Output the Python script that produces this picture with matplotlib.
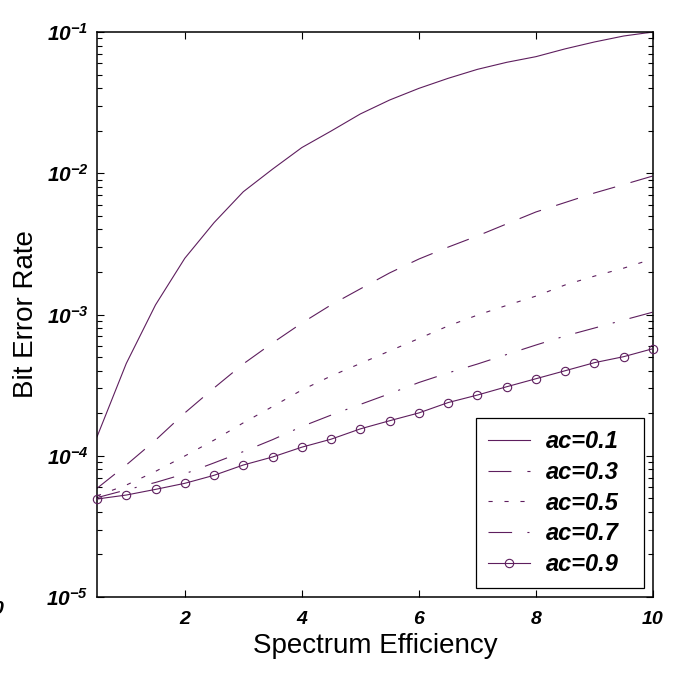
import numpy as np
import matplotlib
matplotlib.use("Agg")
import matplotlib.pyplot as plt
from matplotlib.ticker import FixedLocator, FuncFormatter, LogLocator, NullFormatter

plt.rcParams['font.family'] = ['Liberation Sans', 'DejaVu Sans']
plt.rcParams['mathtext.fontset'] = 'custom'
plt.rcParams['mathtext.rm'] = 'Liberation Sans:bold:italic'
plt.rcParams['mathtext.it'] = 'Liberation Sans:bold:italic'
plt.rcParams['mathtext.bf'] = 'Liberation Sans:bold:italic'
plt.rcParams['mathtext.default'] = 'rm'
plt.rcParams['lines.scale_dashes'] = False

# ---- data ----
x = [0.5, 1.0, 1.5, 2.0, 2.5, 3.0, 3.5, 4.0, 4.5, 5.0,
     5.5, 6.0, 6.5, 7.0, 7.5, 8.0, 8.5, 9.0, 9.5, 10.0]
ber_ac01 = [1.36e-4, 4.5e-4, 1.17e-3, 2.5e-3, 4.47e-3, 7.4e-3, 1.07e-2, 1.52e-2, 1.99e-2, 2.63e-2,
            3.30e-2, 3.99e-2, 4.70e-2, 5.44e-2, 6.10e-2, 6.69e-2, 7.60e-2, 8.50e-2, 9.37e-2, 1.0e-1]
ber_ac03 = [5.88e-5, 8.6e-5, 1.29e-4, 2.01e-4, 3.02e-4, 4.47e-4, 6.29e-4, 8.7e-4, 1.17e-3, 1.52e-3,
            1.97e-3, 2.47e-3, 3.0e-3, 3.6e-3, 4.38e-3, 5.32e-3, 6.21e-3, 7.25e-3, 8.32e-3, 9.57e-3]
ber_ac05 = [5.2e-5, 6.2e-5, 7.75e-5, 9.96e-5, 1.29e-4, 1.71e-4, 2.23e-4, 2.92e-4, 3.67e-4, 4.5e-4,
            5.52e-4, 6.76e-4, 8.3e-4, 9.9e-4, 1.16e-3, 1.35e-3, 1.62e-3, 1.87e-3, 2.13e-3, 2.48e-3]
ber_ac07 = [5.05e-5, 5.73e-5, 6.47e-5, 7.45e-5, 8.9e-5, 1.07e-4, 1.30e-4, 1.61e-4, 1.94e-4, 2.31e-4,
            2.75e-4, 3.30e-4, 3.86e-4, 4.46e-4, 5.21e-4, 6.08e-4, 7.05e-4, 8.02e-4, 9.14e-4, 1.04e-3]
ber_ac09 = [4.94e-5, 5.27e-5, 5.78e-5, 6.38e-5, 7.27e-5, 8.6e-5, 9.8e-5, 1.15e-4, 1.31e-4, 1.55e-4,
            1.77e-4, 2.01e-4, 2.38e-4, 2.69e-4, 3.08e-4, 3.51e-4, 4.0e-4, 4.56e-4, 5.03e-4, 5.73e-4]
labels = ['ac=0.1', 'ac=0.3', 'ac=0.5', 'ac=0.7', 'ac=0.9']
xticks = [2, 4, 6, 8, 10]
yticks_exp = [-5, -4, -3, -2, -1]

color = '#5e1e5e'
lw = 0.8

fig = plt.figure(figsize=(6.83, 6.76), dpi=100)
ax = fig.add_axes([97/683, 1-597/676, 556/683, 565/676])

ax.plot(x, ber_ac01, color=color, lw=lw, linestyle='-', label=labels[0])
ax.plot(x, ber_ac03, color=color, lw=lw, linestyle=(0, (16.5, 11.5)), label=labels[1])
ax.plot(x, ber_ac05, color=color, lw=lw, linestyle=(0, (3.0, 8.5)), label=labels[2])
ax.plot(x, ber_ac07, color=color, lw=lw, linestyle=(0, (17, 11, 1.5, 11)), label=labels[3])
ax.plot(x, ber_ac09, color=color, lw=lw, linestyle='-', marker='o', markersize=6,
        markerfacecolor='none', markeredgecolor=color, markeredgewidth=0.8,
        clip_on=False, zorder=5, label=labels[4])

ax.set_yscale('log')
ax.set_xlim(0.5, 10)
ax.set_ylim(1e-5, 1e-1)

ax.xaxis.set_major_locator(FixedLocator(xticks))
ax.set_xticklabels([str(t) for t in xticks])
ax.yaxis.set_major_locator(FixedLocator([10.0**e for e in yticks_exp]))
ax.yaxis.set_major_formatter(FuncFormatter(lambda v, p: r'$10^{%d}$' % int(round(np.log10(v)))))
ax.yaxis.set_minor_locator(LogLocator(base=10, subs=np.arange(2, 10)))
ax.yaxis.set_minor_formatter(NullFormatter())
ax.xaxis.set_minor_locator(FixedLocator([]))

ax.tick_params(which='both', direction='in', top=True, right=True, width=0.8, color='black')
ax.tick_params(which='major', length=5)
ax.tick_params(which='minor', length=3.3)
ax.tick_params(axis='x', which='major', pad=10)
ax.tick_params(axis='y', which='major', pad=6)

for lab in ax.get_xticklabels():
    lab.set_fontsize(14)
    lab.set_fontweight('bold')
    lab.set_fontstyle('italic')
for lab in ax.get_yticklabels():
    lab.set_fontsize(15)

for s in ax.spines.values():
    s.set_linewidth(1.1)
    s.set_color('black')

ax.set_xlabel('Spectrum Efficiency', fontsize=20, labelpad=4)
ax.set_ylabel('Bit Error Rate', fontsize=20, labelpad=5)

leg = ax.legend(loc='lower left', bbox_to_anchor=(0.6817, 0.0159, 0.3021, 0.3), mode='expand',
                bbox_transform=ax.transAxes,
                borderaxespad=0, fancybox=False, framealpha=1, edgecolor='black',
                handlelength=1.8, handletextpad=0.65, labelspacing=0.33, borderpad=0.5,
                prop={'family': 'Liberation Sans', 'weight': 'bold', 'style': 'italic', 'size': 17})
leg.get_frame().set_linewidth(0.9)

# stray clipped label fragment at left edge (as in the reference)
fig.text(3/683, 1-610/676, '0', ha='right', va='center', fontsize=14,
         fontweight='bold', fontstyle='italic')

fig.savefig('out.png', dpi=100)
